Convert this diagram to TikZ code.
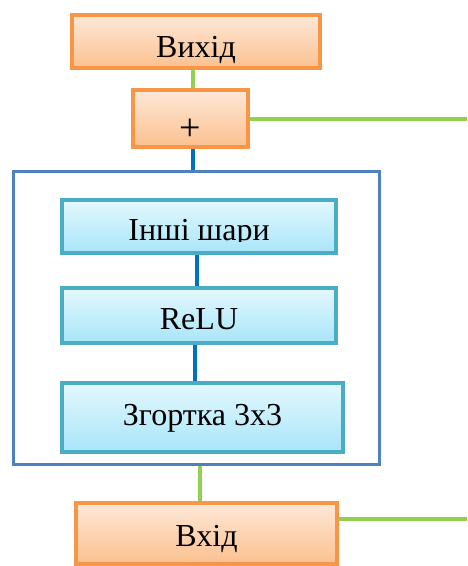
\documentclass[tikz,border=0pt]{standalone}
\usepackage{fontspec}
\setmainfont{Liberation Serif}
\usetikzlibrary{shadows,backgrounds}

\definecolor{orangeline}{HTML}{F79646}
\definecolor{orangetop}{HTML}{FEE8D8}
\definecolor{orangebot}{HTML}{FBC08F}
\definecolor{cyanline}{HTML}{4BACC6}
\definecolor{cyantop}{HTML}{E4F8FE}
\definecolor{cyanbot}{HTML}{A8E5F9}
\definecolor{frameblue}{HTML}{4F81BD}
\definecolor{linkgreen}{HTML}{92D050}
\definecolor{linkblue}{HTML}{0070C0}

\begin{document}
\begin{tikzpicture}[x=1pt,y=-1pt,
  basebox/.style={rectangle, inner sep=0pt, outer sep=0pt, anchor=north west,
    line width=3.2pt, font=\fontsize{32}{38}\selectfont,
    drop shadow={shadow xshift=1.5pt, shadow yshift=-1.5pt, opacity=0.25}},
  ioblock/.style={basebox, draw=orangeline, top color=orangetop, bottom color=orangebot},
  layerblock/.style={basebox, draw=cyanline, top color=cyantop, bottom color=cyanbot},
  greenlink/.style={draw=linkgreen, line width=3.5pt},
  bluelink/.style={draw=linkblue, line width=3.5pt}]

  \useasboundingbox (0,0) rectangle (467,566);

  % output and sum blocks
  \node[ioblock, minimum width=248pt, text height=42pt, text depth=11pt] (out) at (72,15) {Вихід};
  \node[ioblock, minimum width=115pt, text height=50pt, text depth=7pt,
        font=\fontsize{38}{44}\selectfont] (plus) at (133,90) {+};

  % residual block frame
  \node[rectangle, draw=frameblue, line width=3pt, inner sep=0pt, anchor=north west,
        minimum width=366pt, minimum height=293pt] (frame) at (12,170) {};

  % layers inside the residual block
  \node[layerblock, minimum width=274pt, text height=40pt, text depth=13pt] (other) at (62,200) {};
  \begin{scope}
    \clip (62,200) rectangle (336,241);
    \node[anchor=base, inner sep=0pt, font=\fontsize{32}{38}\selectfont] (otherlabel) at (199,240) {Інші шари};
  \end{scope}
  \node[layerblock, minimum width=274pt, text height=41pt, text depth=14pt] (relu) at (62,288) {ReLU};
  \node[layerblock, minimum width=281pt, text height=42pt, text depth=27pt] (conv) at (62,383) {Згортка 3x3};

  % input block
  \node[ioblock, minimum width=261pt, text height=43pt, text depth=18pt] (inp) at (76,503) {Вхід};

  % free ends of the skip connection
  \coordinate (skiptop) at (467,119);
  \coordinate (skipbot) at (467,519);

  \begin{scope}[on background layer]
    \draw[greenlink] ([xshift=2.5pt]plus.north) -- ([xshift=2.5pt]plus.north |- out.south);
    \draw[bluelink] ([xshift=2.5pt]plus.south) -- ([xshift=2.5pt]plus.south |- frame.north);
    \draw[greenlink] ([yshift=-0.5pt]plus.east) -- (skiptop);
    \draw[bluelink] ([xshift=-2pt]other.south) -- ([xshift=-2pt]relu.north);
    \draw[bluelink] ([xshift=-4pt]relu.south) -- ([xshift=-4pt]relu.south |- conv.north);
    \draw[greenlink] ([xshift=-6.5pt]inp.north) -- ([xshift=-6.5pt]inp.north |- frame.south);
    \draw[greenlink] (inp.east |- skipbot) -- (skipbot);
  \end{scope}
\end{tikzpicture}
\end{document}
